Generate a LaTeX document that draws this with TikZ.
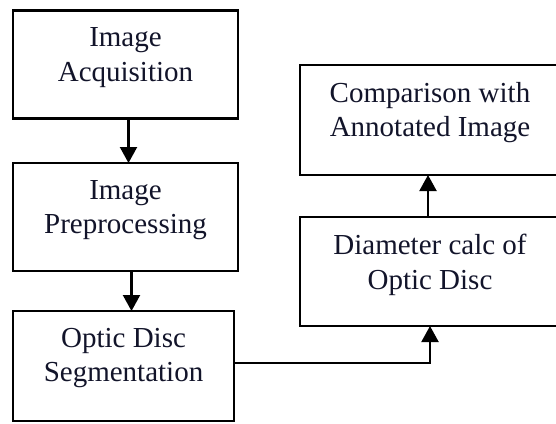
\documentclass[tikz,border=0pt]{standalone}
\usepackage{fontspec}
\setmainfont{Liberation Serif}
\usetikzlibrary{arrows.meta}
\definecolor{inkcol}{RGB}{18,20,42}
\tikzset{
  stagebox/.style={draw=black, line width=2.9pt, rectangle, inner sep=0pt, outer sep=0pt, fill=white},
  stagetext/.style={text=inkcol, align=center, inner sep=0pt, anchor=north,
    font=\fontsize{29}{34.5}\selectfont},
  flow/.style={draw=black, line width=2.1pt, -{Triangle[width=17pt,length=16pt]}}
}
\begin{document}
\begin{tikzpicture}[x=1pt, y=-1pt]
  \useasboundingbox (0,0) rectangle (556,423);
  \clip (0,0) rectangle (556,423);
  % process boxes
  \node[stagebox, minimum width=225pt, minimum height=108pt] (b1) at (125.5,64.5) {};
  \node[stagebox, minimum width=225pt, minimum height=108pt] (b2) at (125.5,217) {};
  \node[stagebox, minimum width=221pt, minimum height=110pt] (b3) at (123.5,366) {};
  \node[stagebox, minimum width=260pt, minimum height=110pt] (b4) at (430,120) {};
  \node[stagebox, minimum width=260pt, minimum height=109pt] (b5) at (430,271.5) {};
  % box captions
  \node[stagetext] (t1) at ([yshift=-17pt]b1.north) {Image\\Acquisition};
  \node[stagetext] (t2) at ([yshift=-17pt]b2.north) {Image\\Preprocessing};
  \node[stagetext] (t3) at ([yshift=-17pt]b3.north) {Optic Disc\\Segmentation};
  \node[stagetext] (t4) at ([yshift=-17pt]b4.north) {Comparison with\\Annotated Image};
  \node[stagetext] (t5) at ([yshift=-17pt]b5.north) {Diameter calc of\\Optic Disc};
  % connectors
  \draw[flow] ([xshift=3pt]b1.south) -- ([xshift=3pt]b1.south |- b2.north);
  \draw[flow] ([xshift=6pt]b2.south) -- ([xshift=6pt]b2.south |- b3.north);
  \draw[flow] ([yshift=3pt]b3.east) -| (b5.south);
  \draw[flow] ([xshift=-2pt]b5.north) -- ([xshift=-2pt]b4.south);
\end{tikzpicture}
\end{document}
